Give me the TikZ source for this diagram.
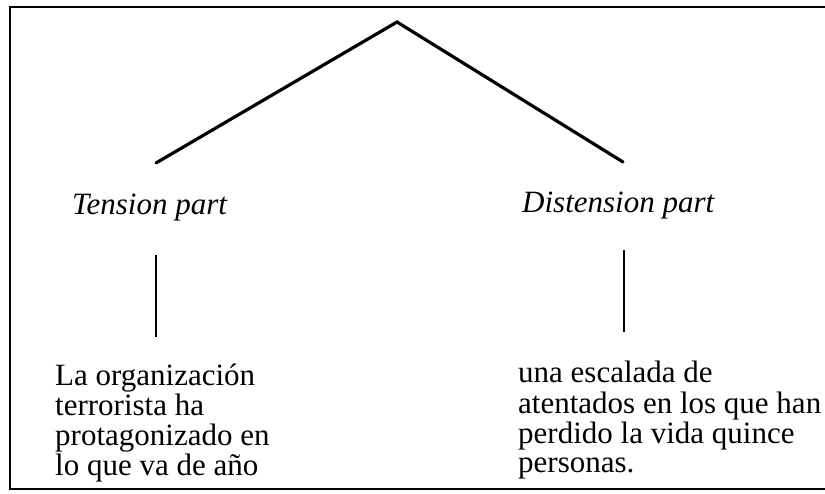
\documentclass[tikz,border=0pt]{standalone}
\usepackage{fontspec}
\setmainfont{Liberation Serif}
\begin{document}
\begin{tikzpicture}[x=1pt,y=-1pt,
  frameline/.style={line width=2.8pt},
  treeline/.style={line width=3.2pt, line cap=round},
  stemline/.style={line width=2.4pt},
  label/.style={inner sep=0pt, anchor=base west, font=\fontsize{31}{29}\selectfont\itshape},
  body/.style={inner sep=0pt, anchor=base west, font=\fontsize{31}{29}\selectfont}]
\useasboundingbox (0,0) rectangle (825,494);
% frame (open on the right)
\draw[frameline] (825,7) -- (10,7) -- (10,489) -- (825,489);
% labels
\node[label] (tension) at (72,215) {Tension part};
\node[label] (distension) at (522,213) {Distension part};
% texts
\node[body] (ltext) at (55,385) {\begin{tabular}[t]{@{}l@{}}La organización\\terrorista ha\\protagonizado en\\lo que va de año\end{tabular}};
\node[body] (rtext) at (518,383) {\begin{tabular}[t]{@{}l@{}}una escalada de\\atentados en los que han\\perdido la vida quince\\personas.\end{tabular}};
% tree
\coordinate (apex) at (397,22);
\coordinate (lend) at (156,163);
\coordinate (rend) at (623,162);
\coordinate (ltop) at (156,255);
\coordinate (lbot) at (156,337);
\coordinate (rtop) at (624,250);
\coordinate (rbot) at (624,332);
\draw[treeline] (lend) -- (apex) -- (rend);
\draw[stemline] (ltop) -- (lbot);
\draw[stemline] (rtop) -- (rbot);
\end{tikzpicture}
\end{document}
